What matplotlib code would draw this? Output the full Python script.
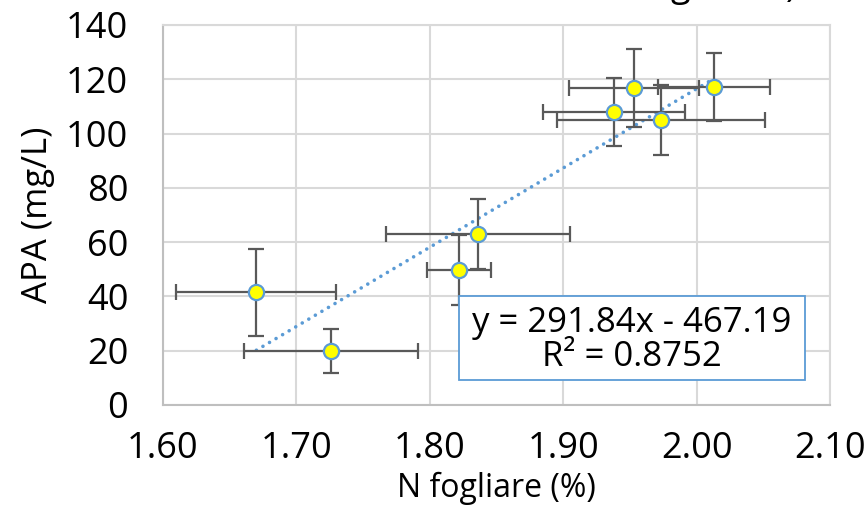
import matplotlib
matplotlib.use("Agg")
import matplotlib.pyplot as plt
from matplotlib.patches import Rectangle
import numpy as np

plt.rcParams['font.family'] = ['Open Sans', 'DejaVu Sans']

# Data (N fogliare %, APA mg/L) with error bars
n_fogliare = [1.670, 1.726, 1.822, 1.836, 1.938, 1.953, 1.973, 2.013]
apa = [41.6, 19.9, 49.7, 63.0, 108.0, 116.8, 105.0, 117.2]
n_err = [0.060, 0.065, 0.024, 0.069, 0.053, 0.049, 0.078, 0.042]
apa_err = [16.0, 8.0, 13.0, 13.0, 12.5, 14.5, 13.0, 12.5]

slope = 291.84
intercept = -467.19
eq_text = "y = 291.84x - 467.19\nR² = 0.8752"

xticks = [1.60, 1.70, 1.80, 1.90, 2.00, 2.10]
yticks = [0, 20, 40, 60, 80, 100, 120, 140]

fig = plt.figure(figsize=(8.66, 5.08), dpi=100)
ax = fig.add_axes([163/866, 1-405/508, (830-163)/866, (405-25)/508])

grid_c = '#D9D9D9'
ax.set_xlim(1.60, 2.10)
ax.set_ylim(0, 140)
ax.set_xticks(xticks)
ax.set_yticks(yticks)
ax.set_xticklabels([f"{v:.2f}" for v in xticks])
ax.set_yticklabels([str(v) for v in yticks])
ax.grid(True, color=grid_c, linewidth=1.5)
ax.set_axisbelow(True)
for s in ax.spines.values():
    s.set_color(grid_c)
    s.set_linewidth(1.5)
ax.spines['left'].set_color('#BFBFBF')
ax.spines['bottom'].set_color('#BFBFBF')
ax.tick_params(length=0, labelsize=26)
ax.tick_params(axis='x', pad=19)
ax.tick_params(axis='y', pad=25)

# trendline
xs = np.array([min(n_fogliare), max(n_fogliare)])
ax.plot(xs, slope*xs + intercept, color='#5B9BD5', linewidth=2.6,
        linestyle=(0, (0.01, 2.1)), dash_capstyle='round', zorder=2)

ax.errorbar(n_fogliare, apa, xerr=n_err, yerr=apa_err, fmt='none',
            ecolor='#595959', elinewidth=1.6, capsize=6, capthick=1.6, zorder=3)
ax.scatter(n_fogliare, apa, s=120, facecolor='#FFFF00', edgecolor='#5B9BD5',
           linewidth=1.6, zorder=4)

ax.set_xlabel("N fogliare (%)", fontsize=23, labelpad=3)
ax.set_ylabel("APA (mg/L)", fontsize=25, labelpad=8)

# equation box
ax.add_patch(Rectangle((0.4438, 0.0658), 0.5187, 0.221, transform=ax.transAxes,
                       facecolor='white', edgecolor='#5B9BD5', linewidth=1.3,
                       zorder=5))
ax.text(0.703, 0.171, eq_text, transform=ax.transAxes, fontsize=25,
        ha='center', va='center', linespacing=1.0, zorder=6)

# clipped title fragments at top edge
fig.text(680/866, 1.007, "g", fontsize=26, ha='center', va='baseline')
fig.text(791/866, 1.007, ")", fontsize=26, ha='center', va='baseline')

fig.savefig("out.png", dpi=100)
